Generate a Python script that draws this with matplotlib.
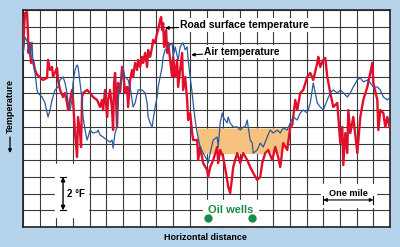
import numpy as np
import matplotlib
matplotlib.use("Agg")
import matplotlib.pyplot as plt
from matplotlib.patches import Rectangle

plt.rcParams['font.family'] = ['Liberation Sans', 'DejaVu Sans']

# distance in miles, temperature in deg F above the chart floor
road_x = [0.00, 0.04, 0.08, 0.10, 0.11, 0.14, 0.16, 0.20, 0.24, 0.28, 0.34, 0.40, 0.48, 0.50, 0.54,
          0.58, 0.60, 0.68, 0.70, 0.74, 0.80, 0.84, 0.88, 0.90, 0.94, 0.98, 1.00, 1.04, 1.08, 1.10,
          1.14, 1.16, 1.18, 1.20, 1.28, 1.34, 1.40, 1.48, 1.54, 1.58, 1.60, 1.64, 1.68, 1.70, 1.74,
          1.78, 1.80, 1.82, 1.84, 1.88, 1.90, 1.94, 1.98, 2.00, 2.04, 2.08, 2.10, 2.14, 2.18, 2.20,
          2.24, 2.28, 2.30, 2.34, 2.38, 2.40, 2.44, 2.48, 2.50, 2.54, 2.58, 2.60, 2.64, 2.68, 2.70,
          2.74, 2.76, 2.78, 2.80, 2.82, 2.86, 2.88, 2.90, 2.94, 2.98, 3.00, 3.04, 3.08, 3.10, 3.14,
          3.18, 3.20, 3.24, 3.28, 3.30, 3.34, 3.38, 3.40, 3.48, 3.50, 3.54, 3.60, 3.68, 3.70, 3.74,
          3.80, 3.88, 3.90, 3.94, 4.00, 4.08, 4.10, 4.14, 4.18, 4.20, 4.28, 4.34, 4.40, 4.48, 4.54,
          4.60, 4.68, 4.74, 4.78, 4.84, 4.90, 4.98, 5.04, 5.10, 5.14, 5.20, 5.28, 5.34, 5.38, 5.44,
          5.48, 5.54, 5.60, 5.68, 5.74, 5.80, 5.88, 5.90, 5.94, 6.00, 6.04, 6.08, 6.14, 6.20, 6.28,
          6.30, 6.34, 6.38, 6.40, 6.44, 6.48, 6.50, 6.54, 6.60, 6.68, 6.74, 6.80, 6.88, 6.94, 6.98,
          7.00, 7.08, 7.10, 7.14, 7.20, 7.24, 7.28, 7.34]
road_t = [10.60, 12.82, 12.88, 11.62, 10.43, 11.02, 9.83, 10.01, 9.41, 9.11, 8.99, 8.81, 8.93, 10.01, 9.41,
          9.59, 8.99, 9.53, 8.81, 8.21, 7.79, 8.03, 7.43, 7.01, 7.61, 8.21, 7.61, 5.63, 4.19, 6.59,
          5.63, 4.79, 7.79, 8.03, 8.21, 8.03, 7.79, 7.61, 7.19, 7.61, 7.01, 8.21, 6.59, 7.61, 8.21,
          7.01, 5.81, 8.63, 9.23, 5.99, 8.63, 8.03, 9.59, 9.41, 8.03, 8.39, 7.19, 8.81, 9.41, 8.99,
          9.83, 9.41, 10.01, 9.59, 10.19, 9.83, 10.43, 9.59, 10.61, 10.19, 10.79, 11.21, 11.03, 11.62, 11.80,
          12.40, 12.58, 11.80, 12.22, 10.79, 11.80, 10.43, 11.03, 10.01, 8.99, 10.19, 8.99, 10.01, 8.39, 9.41,
          10.43, 8.21, 8.99, 7.61, 6.41, 6.83, 5.63, 5.21, 5.21, 4.01, 4.79, 3.83, 3.41, 3.00, 3.59,
          4.01, 4.79, 3.83, 4.61, 4.19, 2.82, 2.40, 2.04, 3.00, 3.59, 4.43, 3.83, 4.43, 4.01, 3.59,
          3.24, 2.82, 3.00, 3.83, 4.43, 4.61, 4.01, 4.79, 4.19, 3.59, 5.03, 4.61, 5.99, 6.11, 7.61,
          7.01, 8.03, 8.21, 8.99, 9.23, 8.81, 9.83, 10.19, 9.59, 10.01, 10.13, 8.99, 8.03, 7.19, 7.43,
          6.59, 5.03, 5.99, 3.71, 5.63, 4.43, 7.01, 5.63, 6.59, 4.43, 6.59, 7.61, 8.39, 9.23, 9.83,
          8.63, 7.61, 5.81, 7.01, 6.83, 5.99, 6.59, 5.81]

air_x = [0.00, 0.04, 0.10, 0.14, 0.18, 0.20, 0.24, 0.28, 0.30, 0.38, 0.44, 0.50, 0.54, 0.58, 0.64,
         0.70, 0.74, 0.80, 0.84, 0.88, 0.90, 0.94, 0.98, 1.00, 1.04, 1.08, 1.10, 1.14, 1.18, 1.20,
         1.24, 1.28, 1.30, 1.34, 1.40, 1.48, 1.50, 1.54, 1.60, 1.68, 1.74, 1.78, 1.80, 1.84, 1.88,
         1.89, 1.92, 1.98, 2.00, 2.04, 2.10, 2.14, 2.20, 2.24, 2.30, 2.38, 2.44, 2.48, 2.50, 2.54,
         2.58, 2.60, 2.64, 2.68, 2.70, 2.74, 2.78, 2.80, 2.84, 2.90, 2.98, 3.00, 3.04, 3.10, 3.14,
         3.20, 3.24, 3.28, 3.30, 3.34, 3.38, 3.40, 3.44, 3.48, 3.54, 3.60, 3.68, 3.70, 3.74, 3.80,
         3.88, 3.90, 3.94, 3.98, 4.00, 4.04, 4.08, 4.10, 4.14, 4.20, 4.28, 4.34, 4.40, 4.44, 4.48,
         4.50, 4.54, 4.58, 4.60, 4.68, 4.74, 4.80, 4.88, 4.94, 5.00, 5.08, 5.14, 5.20, 5.28, 5.34,
         5.40, 5.48, 5.54, 5.60, 5.68, 5.74, 5.78, 5.80, 5.84, 5.88, 5.94, 6.00, 6.08, 6.14, 6.20,
         6.28, 6.34, 6.40, 6.48, 6.54, 6.60, 6.68, 6.74, 6.80, 6.88, 6.94, 7.00, 7.08, 7.14, 7.20,
         7.28, 7.34]
air_t = [10.31, 11.38, 11.02, 10.19, 11.08, 9.83, 9.23, 8.21, 8.03, 7.79, 7.43, 6.59, 7.01, 7.61, 8.21,
         8.39, 8.81, 8.99, 8.63, 8.03, 7.43, 7.01, 7.61, 8.63, 9.41, 9.71, 9.59, 8.63, 7.61, 6.59,
         5.81, 5.21, 5.39, 5.81, 5.63, 5.69, 5.81, 5.51, 5.39, 5.21, 5.09, 5.21, 4.73, 5.63, 5.99,
         7.01, 8.21, 8.99, 9.41, 8.99, 8.81, 8.39, 7.19, 7.43, 8.21, 8.21, 8.03, 7.43, 6.59, 6.23,
         5.99, 6.41, 7.19, 7.79, 8.39, 8.99, 9.59, 10.19, 10.61, 10.79, 11.03, 10.19, 10.79, 10.01, 10.79,
         11.03, 10.61, 10.79, 10.01, 8.99, 8.03, 7.43, 6.41, 5.63, 4.79, 4.43, 4.01, 3.83, 4.43, 5.21,
         5.39, 4.79, 6.23, 6.83, 6.59, 6.41, 6.23, 6.59, 6.23, 5.99, 5.99, 5.81, 5.99, 5.99, 6.41,
         5.99, 5.21, 5.03, 4.43, 4.61, 5.03, 4.79, 5.39, 5.81, 5.63, 5.81, 5.63, 5.93, 5.81, 6.23,
         6.59, 6.41, 6.83, 7.01, 6.83, 7.43, 8.21, 8.63, 8.03, 7.43, 7.19, 7.01, 7.61, 8.03, 8.21,
         8.03, 8.21, 8.03, 7.79, 8.03, 8.39, 8.81, 8.93, 8.69, 8.81, 8.63, 8.39, 8.39, 8.21, 7.79,
         7.61, 7.79]

# shaded stretch over the oil wells
shade_start, shade_end = 3.48, 5.34
shade_top = 5.93
shade_floor = 4.4
wells_x = [3.70, 4.58]

bg = '#b5d3ea'
fig = plt.figure(figsize=(4, 2.47), dpi=100, facecolor=bg)
ax = fig.add_axes([23 / 400, 1 - 227 / 247, 367 / 400, 217 / 247])
ax.set_facecolor('white')
ax.set_xlim(0, 22 / 3)
ax.set_ylim(0, 13)
ax.set_xticks(np.arange(0, 22) / 3)
ax.set_yticks(np.arange(0, 14))
ax.tick_params(length=0, labelbottom=False, labelleft=False)
ax.grid(True, color='#3a3a3a', lw=0.8)
ax.set_axisbelow(True)
for s in ax.spines.values():
    s.set_color('#222222')
    s.set_linewidth(1.2)

rx = np.array(road_x)
rt = np.array(road_t)
mask = (rx >= shade_start) & (rx <= shade_end)
ax.fill_between(rx[mask], shade_top, np.clip(rt[mask], shade_floor, shade_top),
                color='#f7c280', lw=0, zorder=1)

ax.plot(road_x, road_t, color='#e0102c', lw=1.7, zorder=3)
ax.plot(air_x, air_t, color='#2b5a9c', lw=0.9, zorder=4)

bold = dict(fontweight='bold', color='black')
wbox = dict(boxstyle='square,pad=0.15', fc='white', ec='none')
ax.annotate('Road surface temperature', xy=(2.84, 11.92), xytext=(3.14, 12.1),
            fontsize=7.5, va='center', ha='left', bbox=wbox, zorder=6,
            arrowprops=dict(arrowstyle='-|>', color='black', lw=0.8, mutation_scale=5,
                            shrinkA=0, shrinkB=0), **bold)
ax.annotate('Air temperature', xy=(3.36, 10.31), xytext=(3.62, 10.5),
            fontsize=7.3, va='center', ha='left', bbox=wbox, zorder=6,
            arrowprops=dict(arrowstyle='-|>', color='black', lw=0.8, mutation_scale=5,
                            shrinkA=0, shrinkB=0), **bold)

# 2 deg F scale bar
ax.add_patch(Rectangle((0.64, 0.6), 0.66, 3.2, color='white', zorder=2))
ax.annotate('', xy=(0.8, 3.0), xytext=(0.8, 1.0),
            arrowprops=dict(arrowstyle='<|-|>', color='black', lw=1.0, mutation_scale=6,
                            shrinkA=0, shrinkB=0), zorder=5)
ax.plot([0.74, 0.86], [3.0, 3.0], color='black', lw=0.8, zorder=5)
ax.plot([0.74, 0.86], [1.0, 1.0], color='black', lw=0.8, zorder=5)
ax.text(0.88, 2.0, '2 °F', fontsize=7, va='center', ha='left', zorder=5, **bold)

# one mile scale bar
ax.add_patch(Rectangle((5.95, 1.2), 1.1, 1.35, color='white', zorder=2))
ax.annotate('', xy=(7.0, 1.62), xytext=(6.0, 1.62),
            arrowprops=dict(arrowstyle='<|-|>', color='black', lw=0.8, mutation_scale=5,
                            shrinkA=0, shrinkB=0), zorder=5)
ax.plot([6.0, 6.0], [1.4, 1.84], color='black', lw=0.8, zorder=5)
ax.plot([7.0, 7.0], [1.4, 1.84], color='black', lw=0.8, zorder=5)
ax.text(6.5, 2.0, 'One mile', fontsize=6.6, va='center', ha='center', zorder=5, **bold)

# oil wells
ax.add_patch(Rectangle((3.6, 0.12), 1.1, 1.5, color='white', zorder=2))
ax.text(4.14, 1.02, 'Oil wells', fontsize=8, va='center', ha='center', color='#1b8a48',
        fontweight='bold', zorder=5)
ax.plot(wells_x, [0.54, 0.54], 'o', color='#1b8a48', ms=5, zorder=5)

fig.text(205 / 400, 1 - 237 / 247, 'Horizontal distance', fontsize=6.4, ha='center',
         va='center', **bold)
fig.text(10 / 400, 1 - 106 / 247, 'Temperature', fontsize=6.5, rotation=90, ha='center',
         va='center', **bold)
ax.annotate('', xy=(10 / 400, 1 - 153 / 247), xytext=(10 / 400, 1 - 137 / 247),
            xycoords='figure fraction', textcoords='figure fraction', annotation_clip=False,
            arrowprops=dict(arrowstyle='-|>', color='black', lw=0.9,
                            mutation_scale=5, shrinkA=0, shrinkB=0))

fig.savefig('out.png', dpi=100, facecolor=bg)
